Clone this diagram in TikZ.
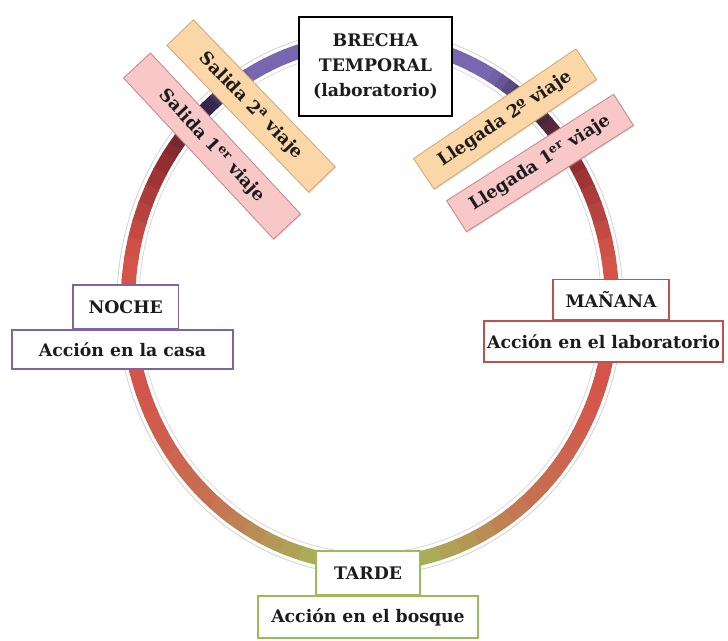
\documentclass[tikz,border=0pt]{standalone}
\usepackage{fontspec}
\setmainfont{DejaVu Serif}
\usetikzlibrary{positioning,shadows}

\definecolor{ringpur}{RGB}{120,102,176}
\definecolor{ringdark}{RGB}{48,36,70}
\definecolor{ringmar}{RGB}{140,42,45}
\definecolor{ringred}{RGB}{212,84,74}
\definecolor{ringbrn}{RGB}{198,114,80}
\definecolor{ringoli}{RGB}{168,178,88}
\definecolor{nochec}{RGB}{128,100,162}
\definecolor{mananac}{RGB}{192,80,77}
\definecolor{tardec}{RGB}{155,187,89}
\definecolor{salfill}{RGB}{251,215,168}
\definecolor{salline}{RGB}{212,168,116}
\definecolor{rosfill}{RGB}{248,200,200}
\definecolor{rosline}{RGB}{196,138,138}
\definecolor{texto}{RGB}{28,28,28}

\tikzset{
  ring/.style={line width=0.36cm},
  etapa/.style={draw, line width=1.1pt, fill=white, text=texto, inner sep=0pt,
    font=\bfseries\fontsize{12.3}{14}\selectfont},
  viaje/.style={draw, line width=0.6pt, text=texto, inner sep=0pt, minimum height=0.92cm,
    font=\bfseries\fontsize{12.5}{14}\selectfont,
    drop shadow={shadow xshift=0.8pt, shadow yshift=-0.8pt, opacity=0.25}},
}

\begin{document}
\begin{tikzpicture}[x=0.025cm, y=-0.025cm]
  \useasboundingbox (0,0) rectangle (728,640);

  % anillo
  \draw[gray!35, line width=0.6pt] plot[domain=0:360, samples=150, smooth] ({370+253*cos(\x)},{302+273*sin(\x)});
  \draw[gray!30, line width=0.6pt] plot[domain=0:360, samples=150, smooth] ({370+231*cos(\x)},{302+251*sin(\x)});
  \foreach \da/\db/\ca/\cb in {0/30/ringpur/ringpur,30/42/ringpur/ringdark,42/56/ringdark/ringmar,
      56/80/ringmar/ringred,80/110/ringred/ringred,110/140/ringred/ringbrn,
      140/168/ringbrn/ringoli,168/180/ringoli/ringoli}
    \foreach \k in {0,...,5}
    {
      \pgfmathsetmacro\aa{\da+(\db-\da)*\k/6}
      \pgfmathsetmacro\ab{\da+(\db-\da)*(\k+1)/6+0.5}
      \pgfmathtruncatemacro\p{100-(\k+0.5)*100/6}
      \pgfmathsetmacro\ra{270+\aa}
      \pgfmathsetmacro\rb{270+\ab}
      \pgfmathsetmacro\la{270-\ab}
      \pgfmathsetmacro\lb{270-\aa}
      \draw[ring, color=\ca!\p!\cb] plot[domain=\ra:\rb, samples=5, variable=\t] ({370+242*cos(\t)},{302+262*sin(\t)});
      \draw[ring, color=\ca!\p!\cb] plot[domain=\la:\lb, samples=5, variable=\t] ({370+242*cos(\t)},{302+262*sin(\t)});
    }

  % laboratorio
  \node[draw=black, line width=1.6pt, fill=white, text=texto, align=center,
    minimum width=3.83cm, minimum height=2.48cm,
    font=\bfseries\fontsize{12.3}{17.5}\selectfont] (brecha) at (375.5,66.5)
    {BRECHA\\TEMPORAL\\(laboratorio)};

  % viajes
  \node[viaje, fill=salfill, draw=salline, rotate=-46, minimum width=5.1cm] (sal2) at (251,106)
    {Salida 2\textsuperscript{a} viaje};
  \node[viaje, fill=rosfill, draw=rosline, rotate=-47, minimum width=5.5cm] (sal1) at (212,146)
    {Salida 1\textsuperscript{er} viaje};
  \node[viaje, fill=salfill, draw=salline, rotate=34, minimum width=4.9cm] (lle2) at (505,119)
    {Llegada 2º viaje};
  \node[viaje, fill=rosfill, draw=rosline, rotate=32.5, minimum width=4.95cm] (lle1) at (540,163)
    {Llegada 1\textsuperscript{er} viaje};

  % etapas
  \node[etapa, draw=nochec, minimum width=5.53cm, minimum height=0.98cm] (casa) at (122.5,349.5)
    {Acción en la casa};
  \node[etapa, draw=nochec, minimum width=2.63cm, minimum height=1.08cm, above=0pt of casa, xshift=0.08cm] (noche)
    {NOCHE};
  \node[etapa, draw=mananac, minimum width=5.98cm, minimum height=1.03cm] (lab) at (603.5,341.5)
    {Acción en el laboratorio};
  \node[etapa, draw=mananac, minimum width=2.9cm, minimum height=1.0cm, above=0pt of lab, xshift=0.19cm] (manana)
    {MAÑANA};
  \node[etapa, draw=tardec, minimum width=5.5cm, minimum height=1.05cm] (bosque) at (368,617)
    {Acción en el bosque};
  \node[etapa, draw=tardec, minimum width=2.6cm, minimum height=1.08cm, above=0pt of bosque] (tarde)
    {TARDE};
\end{tikzpicture}
\end{document}
